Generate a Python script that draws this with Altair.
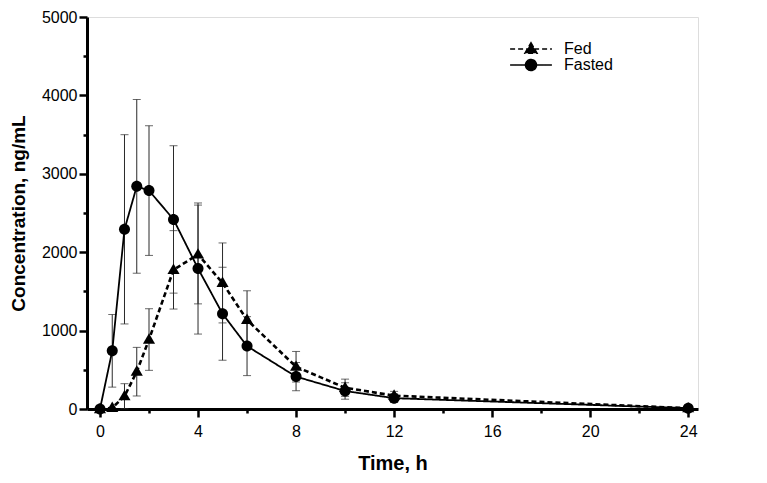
import altair as alt
import pandas as pd

FONT = "Liberation Sans"

time_h = [0, 0.5, 1, 1.5, 2, 3, 4, 5, 6, 8, 10, 12, 24]
fasted_mean = [0, 742, 2292, 2840, 2786, 2418, 1792, 1215, 802, 413, 230, 138, 10]
fasted_sd = [0, 463, 1207, 1108, 827, 940, 836, 593, 376, 180, 105, 55, 0]
fed_mean = [0, 15, 163, 476, 886, 1775, 1971, 1608, 1136, 539, 271, 170, 10]
fed_sd = [0, 0, 160, 310, 393, 500, 630, 510, 372, 195, 110, 55, 0]
series_names = ["Fed", "Fasted"]

rows = []
for name, means, sds in [("Fed", fed_mean, fed_sd), ("Fasted", fasted_mean, fasted_sd)]:
    for t, m, s in zip(time_h, means, sds):
        rows.append({"time": t, "conc": m, "sd": s, "series": name})
df = pd.DataFrame(rows)
df["lo"] = (df["conc"] - df["sd"]).clip(lower=0)
df["hi"] = df["conc"] + df["sd"]

# marker shapes for the data points
fed_marker = "M0,-1.15L1.1,0.75L-1.1,0.75Z"
fasted_marker = "M1,0A1,1,0,1,1,-1,0A1,1,0,1,1,1,0Z"
# legend symbols: a line segment through the marker
fed_key = "M-3.8,0H3.8" + fed_marker
fasted_key = "M-3.8,0H3.8" + fasted_marker
dash_styles = [[5, 3], [1, 0]]

x_axis = alt.Axis(
    values=list(range(0, 25, 2)),
    labelExpr="datum.value % 4 === 0 ? datum.label : ''",
    tickSize={"condition": {"test": "datum.value % 4 !== 0", "value": 4}, "value": 8},
    tickWidth=2.5, tickColor="black", domainWidth=3, domainColor="black",
    labelFontSize=16, labelColor="black", labelPadding=6, labelFont=FONT,
    title="Time, h", titleFontSize=20, titleFontWeight="bold", titleColor="black",
    titlePadding=14, titleFont=FONT, grid=False,
)
y_axis = alt.Axis(
    values=list(range(0, 5001, 500)),
    labelExpr="datum.value % 1000 === 0 ? datum.label : ''",
    format="d",
    tickSize={"condition": {"test": "datum.value % 1000 !== 0", "value": 4}, "value": 8},
    tickWidth=2.5, tickColor="black", domainWidth=3, domainColor="black",
    labelFontSize=16, labelColor="black", labelPadding=2, labelFont=FONT,
    title="Concentration, ng/mL", titleFontSize=19, titleFontWeight="bold",
    titleColor="black", titlePadding=13, titleFont=FONT, grid=False,
)

xs = alt.Scale(domain=[-0.53, 24.4], nice=False, zero=False)
ys = alt.Scale(domain=[0, 5000], nice=False)

legend_props = dict(
    title=None, orient="none", legendX=436, legendY=24,
    labelFontSize=16, labelFont=FONT, labelColor="black", labelOffset=25,
    symbolSize=121, rowPadding=-5, padding=0,
)

base = alt.Chart(df)
bars = base.transform_filter("datum.sd > 0")
ERR = "#2a2a2a"

err_rule = bars.mark_rule(color=ERR, strokeWidth=1).encode(
    x=alt.X("time:Q", scale=xs, axis=x_axis),
    y=alt.Y("lo:Q", scale=ys, axis=y_axis),
    y2="hi:Q",
)
cap_hi = bars.mark_tick(orient="horizontal", size=8, thickness=1, color=ERR).encode(
    x=alt.X("time:Q", scale=xs, axis=x_axis),
    y=alt.Y("hi:Q", scale=ys, axis=y_axis),
)
cap_lo = bars.mark_tick(orient="horizontal", size=8, thickness=1, color=ERR).encode(
    x=alt.X("time:Q", scale=xs, axis=x_axis),
    y=alt.Y("lo:Q", scale=ys, axis=y_axis),
)

lines = base.mark_line(color="black").encode(
    x=alt.X("time:Q", scale=xs, axis=x_axis),
    y=alt.Y("conc:Q", scale=ys, axis=y_axis),
    strokeDash=alt.StrokeDash(
        "series:N", scale=alt.Scale(domain=series_names, range=dash_styles), legend=None
    ),
    strokeWidth=alt.StrokeWidth("series:N", scale=alt.Scale(domain=series_names, range=[2.6, 1.8]), legend=None),
)

points = base.mark_point(filled=True, color="black", size=121, strokeWidth=0, opacity=1).encode(
    x=alt.X("time:Q", scale=xs, axis=x_axis),
    y=alt.Y("conc:Q", scale=ys, axis=y_axis),
    shape=alt.Shape(
        "series:N",
        scale=alt.Scale(domain=series_names, range=[fed_marker, fasted_marker]),
        legend=None,
    ),
)

# legend-only layer (draws no data marks; the legend comes from its scales)
key = base.transform_filter("false").mark_point(
    filled=True, fill="black", stroke="black", strokeWidth=2, opacity=1, size=121
).encode(
    x=alt.X("time:Q", scale=xs, axis=x_axis),
    y=alt.Y("conc:Q", scale=ys, axis=y_axis),
    shape=alt.Shape(
        "series:N",
        scale=alt.Scale(domain=series_names, range=[fed_key, fasted_key]),
        legend=alt.Legend(**legend_props),
    ),
    strokeDash=alt.StrokeDash(
        "series:N",
        scale=alt.Scale(domain=series_names, range=dash_styles),
        legend=alt.Legend(**legend_props),
    ),
)

chart = alt.layer(err_rule, cap_hi, cap_lo, lines, points, key).resolve_scale(
    shape="independent", strokeDash="independent"
).properties(
    width=611, height=392,
    autosize=alt.AutoSizeParams(type="none"),
    padding={"left": 79, "top": 9, "right": 60, "bottom": 64},
).configure_view(strokeWidth=0).configure(font=FONT)

chart.save("out.html", embed_options={"renderer": "svg", "actions": False})
